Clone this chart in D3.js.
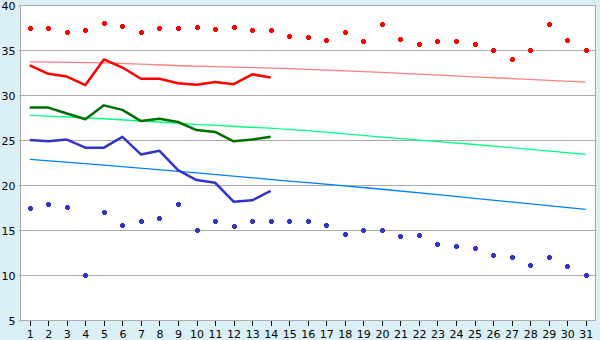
<!DOCTYPE html>
<html>
<head>
<meta charset="utf-8">
<script src="https://cdn.jsdelivr.net/npm/d3@7"></script>
<style>
  body { margin: 0; background: #daf0f6; }
  text { font-family: "DejaVu Sans", Verdana, sans-serif; font-size: 11px; fill: #000; }
</style>
</head>
<body>
<svg id="chart" width="600" height="340"></svg>
<script>
// categories
var days = d3.range(1, 32);
var yTicks = [5, 10, 15, 20, 25, 30, 35, 40];

// scatter series
var redPoints = [37.4, 37.4, 37.0, 37.2, 38.0, 37.7, 37.0, 37.4, 37.4, 37.55,
                 37.3, 37.5, 37.2, 37.2, 36.6, 36.4, 36.1, 37.0, 36.0, 37.85,
                 36.2, 35.7, 36.0, 36.0, 35.7, 35.0, 34.0, 35.0, 37.85, 36.1, 35.0];
var bluePoints = [17.4, 17.85, 17.6, 10.0, 16.95, 15.6, 15.95, 16.3, 17.85, 15.0,
                  15.95, 15.4, 15.95, 16.05, 15.95, 15.95, 15.6, 14.6, 14.95, 14.95,
                  14.3, 14.4, 13.4, 13.2, 12.95, 12.2, 11.95, 11.1, 11.95, 10.95, 10.0];

// lines, first 14 days
var redLine = [33.3, 32.35, 32.05, 31.1, 33.95, 33.05, 31.8, 31.8, 31.3, 31.15,
               31.45, 31.2, 32.3, 31.95];
var greenLine = [28.6, 28.6, 27.95, 27.3, 28.85, 28.35, 27.1, 27.35, 27.0, 26.1,
                 25.9, 24.85, 25.05, 25.35];
var blueLine = [25.0, 24.85, 25.05, 24.15, 24.15, 25.35, 23.4, 23.8, 21.65, 20.55,
                20.25, 18.15, 18.3, 19.35];

// trend lines
var trendDays = [1, 5, 10, 15, 20, 25, 31];
var redTrend = [33.67, 33.56, 33.2, 32.94, 32.52, 32.02, 31.44];
var greenTrend = [27.74, 27.36, 26.74, 26.17, 25.33, 24.5, 23.41];
var blueTrend = [22.85, 22.2, 21.34, 20.44, 19.53, 18.52, 17.3];

var svg = d3.select("#chart");
var plotLeft = 20.5, plotRight = 595, plotTop = 5, plotBottom = 320;

// plot background
svg.append("rect")
    .attr("x", plotLeft).attr("y", plotTop)
    .attr("width", plotRight - plotLeft).attr("height", plotBottom - plotTop)
    .attr("fill", "#fff");

var x = d3.scaleLinear().domain([0.5, 31.5]).range([plotLeft, plotRight]);
var y = d3.scaleLinear().domain([5, 40]).range([plotBottom, plotTop]);

// gridlines
svg.append("g").selectAll("line")
    .data(yTicks)
    .enter().append("line")
    .attr("x1", plotLeft).attr("x2", plotRight)
    .attr("y1", function(d) { return Math.round(y(d)) + 0.5; })
    .attr("y2", function(d) { return Math.round(y(d)) + 0.5; })
    .attr("stroke", "#aaa");

// frame (left + right)
svg.append("line").attr("x1", plotLeft).attr("x2", plotLeft).attr("y1", plotTop).attr("y2", plotBottom + 0.5)
    .attr("stroke", "#aaa");
svg.append("line").attr("x1", plotRight + 0.5).attr("x2", plotRight + 0.5).attr("y1", plotTop).attr("y2", plotBottom + 0.5)
    .attr("stroke", "#aaa");

// y axis
var yAxis = svg.append("g")
    .attr("transform", "translate(" + plotLeft + ",0.5)")
    .call(d3.axisLeft(y).tickValues(yTicks).tickSize(2).tickPadding(3));
yAxis.select(".domain").remove();
yAxis.selectAll("line").attr("stroke", "#aaa");
yAxis.selectAll("text").attr("font-size", 11);

// x axis
var xAxis = svg.append("g")
    .attr("transform", "translate(0," + (plotBottom + 0.5) + ")")
    .call(d3.axisBottom(x).tickValues(days).tickFormat(d3.format("d")).tickSize(5).tickPadding(5));
xAxis.select(".domain").attr("stroke", "#aaa").attr("d", "M" + plotLeft + ",0H" + (plotRight + 0.5));
xAxis.selectAll("line").attr("stroke", "#000").attr("shape-rendering", "crispEdges");
xAxis.selectAll("text").attr("font-size", 10.5);

// trend lines
var trendLine = d3.line()
    .x(function(d, i) { return x(trendDays[i]); })
    .y(function(d) { return y(d); })
    .curve(d3.curveMonotoneX);

[[redTrend, "#ff8080"], [greenTrend, "#00ff80"], [blueTrend, "#0080ff"]].forEach(function(t) {
    svg.append("path")
        .attr("d", trendLine(t[0]))
        .attr("fill", "none")
        .attr("stroke", t[1])
        .attr("stroke-width", 1.3);
});

// thick lines
var line = d3.line()
    .x(function(d, i) { return x(days[i]); })
    .y(function(d) { return y(d); });

[[redLine, "#ff0000"], [greenLine, "#006e00"], [blueLine, "#3333cc"]].forEach(function(l) {
    svg.append("path")
        .attr("d", line(l[0]))
        .attr("fill", "none")
        .attr("stroke", l[1])
        .attr("stroke-width", 2.5)
        .attr("stroke-linejoin", "round");
});

// markers: small chunky plus
var marker = "M-1.5,-2.5h3v1h1v3h-1v1h-3v-1h-1v-3h1z";
[[redPoints, "#ff0000"], [bluePoints, "#3333cc"]].forEach(function(p) {
    svg.append("g").selectAll("path")
        .data(p[0])
        .enter().append("path")
        .attr("d", marker)
        .attr("shape-rendering", "crispEdges")
        .attr("transform", function(d, i) {
            return "translate(" + (Math.round(x(days[i])) + 0.5) + "," + (Math.round(y(d)) + 0.5) + ")";
        })
        .attr("fill", p[1]);
});
</script>
</body>
</html>
